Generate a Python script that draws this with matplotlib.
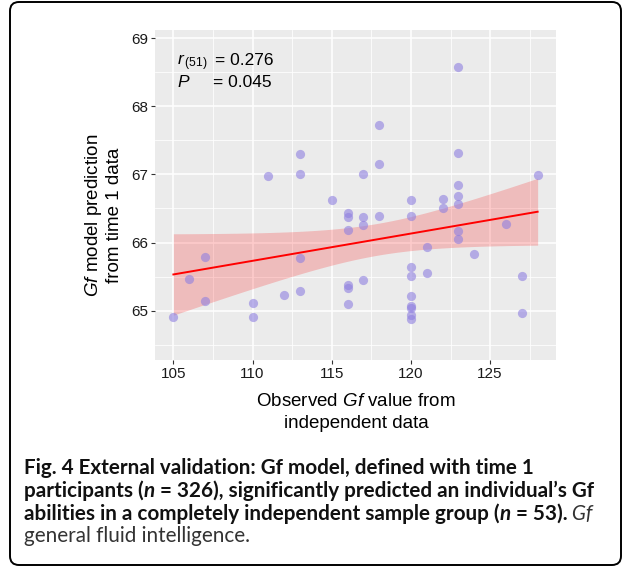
import numpy as np
import matplotlib
matplotlib.use("Agg")
from matplotlib import pyplot as plt
from matplotlib.patches import FancyBboxPatch
from matplotlib.transforms import IdentityTransform

plt.rcParams['font.family'] = ['Liberation Sans', 'DejaVu Sans']
plt.rcParams['mathtext.fontset'] = 'custom'
plt.rcParams['mathtext.rm'] = 'Liberation Sans'
plt.rcParams['mathtext.it'] = 'Liberation Sans:italic'

# observed Gf (independent data) vs. model prediction
observed = [105, 106, 107, 107, 110, 110, 111, 112, 113, 113, 113, 113,
            115, 116, 116, 116, 116, 116, 116, 117, 117, 117, 117,
            118, 118, 118,
            120, 120, 120, 120, 120, 120, 120, 120, 120, 121, 121,
            122, 122, 123, 123, 123, 123, 123, 123, 123, 124, 126,
            127, 127, 128]
predicted = [64.91, 65.46, 65.79, 65.14, 65.11, 64.91, 66.97, 65.23, 67.30, 67.00, 65.77, 65.29,
             66.62, 66.43, 66.38, 66.19, 65.38, 65.33, 65.10, 67.00, 66.38, 66.26, 65.45,
             67.73, 67.16, 66.39,
             66.63, 66.39, 65.64, 65.51, 65.21, 65.07, 65.04, 64.94, 64.88, 65.94, 65.56,
             66.64, 66.50, 68.57, 67.32, 66.85, 66.69, 66.57, 66.17, 66.05, 65.83, 66.27,
             65.51, 64.97, 66.99]

x_ticks = [105, 110, 115, 120, 125]
y_ticks = [65, 66, 67, 68, 69]
r_text = "= 0.276"
p_text = "= 0.045"

W, H = 625, 567
fig = plt.figure(figsize=(W / 100, H / 100), dpi=100)
ax = fig.add_axes([155 / W, 1 - 360 / H, 401 / W, 330 / H])

x = np.array(observed, dtype=float)
y = np.array(predicted)

# linear fit with 95% confidence band
slope, intercept = np.polyfit(x, y, 1)
xs = np.linspace(x.min(), x.max(), 100)
ys = intercept + slope * xs
n = len(x)
resid = y - (intercept + slope * x)
s = np.sqrt(np.sum(resid ** 2) / (n - 2))
sxx = np.sum((x - x.mean()) ** 2)
se = s * np.sqrt(1 / n + (xs - x.mean()) ** 2 / sxx)
t_crit = 2.01

ax.set_facecolor('#EBEBEB')
ax.fill_between(xs, ys - t_crit * se, ys + t_crit * se, color='#ff0000', alpha=0.2,
                linewidth=0, zorder=2)
ax.scatter(x, y, s=44, color='#8f7fe0', alpha=0.6, linewidths=0, zorder=3)
ax.plot(xs, ys, color='red', lw=1.4, zorder=4)

ax.set_xlim(103.84, 129.16)
ax.set_ylim(64.276, 69.12)
ax.set_xticks(x_ticks)
ax.set_yticks(y_ticks)
ax.set_xticks(np.arange(107.5, 129, 5), minor=True)
ax.set_yticks(np.arange(64.5, 69, 1), minor=True)
ax.grid(which='major', color='white', lw=1.1, zorder=0)
ax.grid(which='minor', color='white', lw=0.55, zorder=0)
ax.set_axisbelow(True)
for sp in ax.spines.values():
    sp.set_visible(False)
ax.tick_params(which='major', length=3, width=0.8, color='#333333',
               labelsize=11, labelcolor='#1a1a1a', pad=2)
ax.tick_params(which='minor', length=0)

# r and P annotations
ax.text(0.055, 0.894, r"$r_{\,(51)}$", transform=ax.transAxes, fontsize=12.5)
ax.text(0.150, 0.894, r_text, transform=ax.transAxes, fontsize=12.5)
ax.text(0.055, 0.828, "P", transform=ax.transAxes, fontsize=12.5, style='italic')
ax.text(0.145, 0.828, p_text, transform=ax.transAxes, fontsize=12.5)

# axis titles
fig.text(356 / W, 1 - 406 / H, "Observed $\\mathit{Gf}$ value from",
         ha='center', va='baseline', fontsize=13.5)
fig.text(356 / W, 1 - 428 / H, "independent data",
         ha='center', va='baseline', fontsize=13.5)
fig.text(103 / W, 1 - 215 / H, "$\\mathit{Gf}$ model prediction\nfrom time 1 data",
         ha='center', va='center', rotation=90, fontsize=13.5, linespacing=1.15)

# rounded frame
frame = FancyBboxPatch((18, 10), 595, 547, boxstyle="round,pad=8,rounding_size=9",
                       transform=IdentityTransform(), fill=False, lw=1.4,
                       edgecolor='black')
fig.patches.append(frame)

# caption
renderer = fig.canvas.get_renderer()
cap_size = 14.9
cap_font = ['Lato', 'DejaVu Sans']


def put_line(x0, y0, parts):
    xp = x0
    for txt, weight, style, col in parts:
        t = fig.text(xp / W, 1 - y0 / H, txt, fontsize=cap_size, fontweight=weight,
                     fontstyle=style, color=col, family=cap_font, va='baseline')
        xp += t.get_window_extent(renderer).width


B, R = 'bold', 'normal'
put_line(24, 474, [("Fig. 4 External validation: Gf model, defined with time 1", B, 'normal', '#111')])
put_line(24, 497, [("participants (", B, 'normal', '#111'), ("n", B, 'italic', '#111'),
                   (" = 326), significantly predicted an individual\u2019s Gf", B, 'normal', '#111')])
put_line(24, 520, [("abilities in a completely independent sample group (", B, 'normal', '#111'),
                   ("n", B, 'italic', '#111'), (" = 53).", B, 'normal', '#111'),
                   (" Gf", R, 'italic', '#333')])
put_line(24, 542, [("general fluid intelligence.", R, 'normal', '#333')])

fig.savefig("out.png", dpi=100)
